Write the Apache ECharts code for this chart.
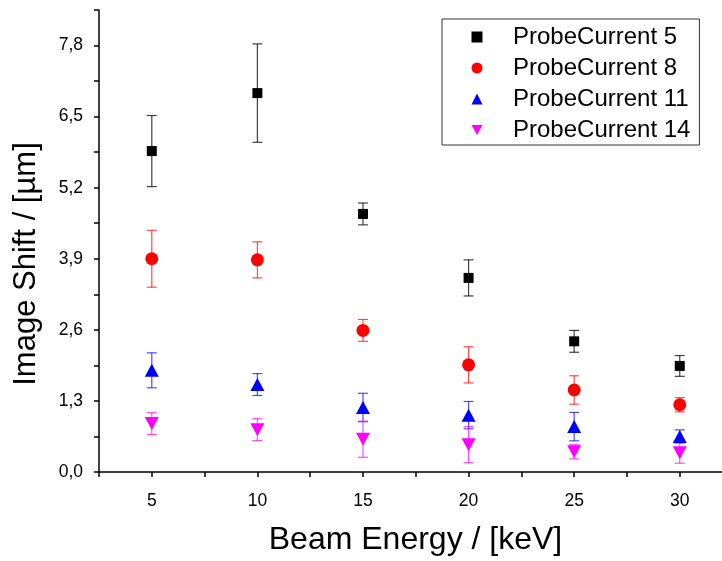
<!DOCTYPE html>
<html>
<head>
<meta charset="utf-8">
<script src="https://cdn.jsdelivr.net/npm/echarts@6/dist/echarts.min.js"></script>
<style>
  html, body { margin: 0; padding: 0; background: #fff; }
  #chart { width: 722px; height: 561px; }
</style>
</head>
<body>
<div id="chart"></div>
<script>
// Beam energy (keV) on x
const energies = [5, 10, 15, 20, 25, 30];

// Image shift (µm) means and error half-widths
const pc5 = [5.87, 6.93, 4.72, 3.55, 2.39, 1.94];
const pc5Err = [0.65, 0.90, 0.20, 0.33, 0.20, 0.19];

const pc8 = [3.90, 3.88, 2.59, 1.96, 1.50, 1.23];
const pc8Err = [0.52, 0.33, 0.20, 0.33, 0.26, 0.13];

const pc11 = [1.86, 1.60, 1.18, 1.04, 0.83, 0.65];
const pc11Err = [0.32, 0.20, 0.26, 0.25, 0.26, 0.12];

const pc14 = [0.885, 0.775, 0.60, 0.50, 0.37, 0.35];
const pc14Err = [0.20, 0.20, 0.33, 0.33, 0.13, 0.19];

const seriesNames = ["ProbeCurrent 5", "ProbeCurrent 8", "ProbeCurrent 11", "ProbeCurrent 14"];

const FONT = "Liberation Sans, Arial, sans-serif";
const TRI_DOWN = "path://M0,0 L12,0 L6,11 Z";

const STYLE = [
  { color: "#000000", bar: "rgba(0,0,0,0.75)", symbol: "rect", size: 10 },
  { color: "#ff0000", bar: "rgba(255,0,0,0.7)", symbol: "circle", size: 13 },
  { color: "#0000ff", bar: "rgba(0,0,255,0.7)", symbol: "triangle", size: [14, 13] },
  { color: "#ff00ff", bar: "rgba(255,0,255,0.7)", symbol: TRI_DOWN, size: [14, 13] }
];

const means = [pc5, pc8, pc11, pc14];
const errs = [pc5Err, pc8Err, pc11Err, pc14Err];

function pairs(vals) {
  return energies.map((x, i) => [x, vals[i]]);
}

function errRows(vals, e) {
  return energies.map((x, i) => [x, vals[i] - e[i], vals[i] + e[i]]);
}

function errorBarItem(color) {
  return function (params, api) {
    const x = api.value(0);
    const lo = api.coord([x, api.value(1)]);
    const hi = api.coord([x, api.value(2)]);
    const cap = 5;
    const st = { stroke: color, lineWidth: 1.2 };
    return {
      type: "group",
      children: [
        { type: "line", shape: { x1: lo[0], y1: lo[1], x2: hi[0], y2: hi[1] }, style: st },
        { type: "line", shape: { x1: hi[0] - cap, y1: hi[1], x2: hi[0] + cap, y2: hi[1] }, style: st },
        { type: "line", shape: { x1: lo[0] - cap, y1: lo[1], x2: lo[0] + cap, y2: lo[1] }, style: st }
      ]
    };
  };
}

const series = [];
seriesNames.forEach((name, k) => {
  series.push({
    name: name + " err",
    type: "custom",
    renderItem: errorBarItem(STYLE[k].bar),
    data: errRows(means[k], errs[k]),
    encode: { x: 0, y: [1, 2] },
    silent: true,
    z: 1
  });
});
seriesNames.forEach((name, k) => {
  series.push({
    name: name,
    type: "scatter",
    data: pairs(means[k]),
    symbol: STYLE[k].symbol,
    symbolSize: STYLE[k].size,
    itemStyle: { color: STYLE[k].color, opacity: 1 },
    z: 3
  });
});

const chart = echarts.init(document.getElementById("chart"), null, { renderer: "canvas" });

chart.setOption({
  animation: false,
  backgroundColor: "#fff",
  textStyle: { fontFamily: FONT },
  grid: { left: 99, right: 0, top: 10, bottom: 85, containLabel: false },
  legend: {
    data: seriesNames,
    orient: "vertical",
    left: 442,
    top: 19,
    padding: [6, 9, 3, 29.5],
    itemGap: 7,
    itemWidth: 11,
    itemHeight: 11,
    borderColor: "#333",
    borderWidth: 1,
    backgroundColor: "#fff",
    textStyle: {
      fontFamily: FONT,
      fontSize: 24,
      lineHeight: 24,
      color: "#000",
      padding: [0, 0, 0, 25.5]
    }
  },
  xAxis: {
    type: "value",
    min: 2.5,
    max: 32,
    interval: 2.5,
    name: "Beam Energy / [keV]",
    nameLocation: "middle",
    nameGap: 52,
    nameTextStyle: { fontFamily: FONT, fontSize: 32, color: "#000", padding: [0, 0, 0, 10] },
    axisLine: { show: true, onZero: false, lineStyle: { color: "#000", width: 1.5 } },
    axisTick: { show: true, inside: false, length: 5, lineStyle: { color: "#000", width: 1.5 } },
    axisLabel: {
      margin: 20,
      fontFamily: FONT,
      fontSize: 17.5,
      color: "#000",
      showMaxLabel: false,
      formatter: function (v) {
        return (Math.abs(v % 5) < 1e-6) ? String(v) : "";
      }
    },
    splitLine: { show: false }
  },
  yAxis: {
    type: "value",
    min: 0,
    max: 8.45,
    interval: 0.65,
    name: "Image Shift / [µm]",
    nameLocation: "middle",
    nameRotate: 90,
    nameGap: 57,
    nameTextStyle: { fontFamily: FONT, fontSize: 31, color: "#000", padding: [0, 46, 0, 0] },
    axisLine: { show: true, onZero: false, lineStyle: { color: "#000", width: 1.5 } },
    axisTick: { show: true, inside: false, length: 5, lineStyle: { color: "#000", width: 1.5 } },
    axisLabel: {
      margin: 16,
      fontFamily: FONT,
      fontSize: 17.5,
      color: "#000",
      formatter: function (v) {
        const idx = Math.round(v / 0.65);
        if (idx % 2 !== 0) return "";
        return (idx * 0.65).toFixed(1).replace(".", ",");
      }
    },
    splitLine: { show: false }
  },
  series: series
});
</script>
</body>
</html>
